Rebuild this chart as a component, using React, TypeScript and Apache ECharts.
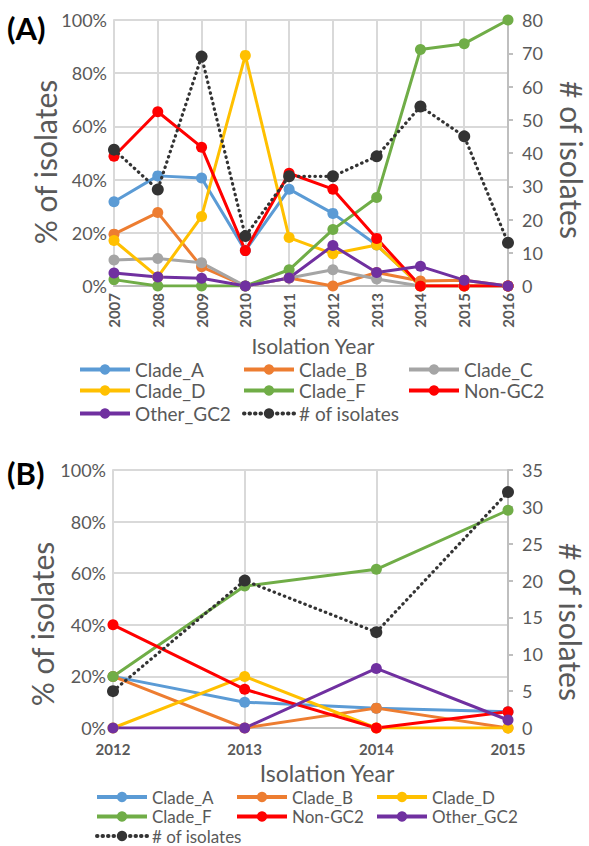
import React, { useEffect, useRef } from "react";
import * as echarts from "echarts";

const yearsA = ["2007", "2008", "2009", "2010", "2011", "2012", "2013", "2014", "2015", "2016"];
const aCladeA = [31.7, 41.4, 40.6, 13.3, 36.4, 27.3, 15.4, 0, 0, 0];
const aCladeB = [19.5, 27.6, 7.2, 0, 3.0, 0, 5.1, 1.9, 2.2, 0];
const aCladeC = [9.8, 10.3, 8.7, 0, 3.0, 6.1, 2.6, 0, 0, 0];
const aCladeD = [17.1, 3.4, 26.1, 86.7, 18.2, 12.1, 15.4, 0, 0, 0];
const aCladeF = [2.4, 0, 0, 0, 6.1, 21.2, 33.3, 88.9, 91.1, 100];
const aNonGC2 = [48.8, 65.5, 52.2, 13.3, 42.4, 36.4, 17.9, 0, 0, 0];
const aOtherGC2 = [4.9, 3.4, 2.9, 0, 3.0, 15.2, 5.1, 7.4, 2.2, 0];
const aCount = [41, 29, 69, 15, 33, 33, 39, 54, 45, 13];

const yearsB = ["2012", "2013", "2014", "2015"];
const bCladeA = [20, 10, 7.7, 6.3];
const bCladeB = [20, 0, 7.7, 0];
const bCladeD = [0, 20, 0, 0];
const bCladeF = [20, 55, 61.5, 84.4];
const bNonGC2 = [40, 15, 0, 6.3];
const bOtherGC2 = [0, 0, 23.1, 3.1];
const bCount = [5, 20, 13, 32];

const COLORS: Record<string, string> = {
  Clade_A: "#5B9BD5",
  Clade_B: "#ED7D31",
  Clade_C: "#A5A5A5",
  Clade_D: "#FFC000",
  Clade_F: "#70AD47",
  "Non-GC2": "#FF0000",
  Other_GC2: "#7030A0",
  "# of isolates": "#333333",
};

const FONT = "Lato, 'Open Sans', sans-serif";
const TXT = "#595959";

export default function App() {
  const ref = useRef<HTMLDivElement>(null);
  useEffect(() => {
    if (!ref.current) return;
    const chart = echarts.init(ref.current, undefined, { renderer: "svg" });

    const lineSeries = (name: string, data: number[], xi: number, yi: number) => ({
      name,
      type: "line",
      xAxisIndex: xi,
      yAxisIndex: yi,
      data,
      symbol: "circle",
      symbolSize: 11,
      itemStyle: { color: COLORS[name] },
      lineStyle: { color: COLORS[name], width: 3 },
    });
    const countSeries = (data: number[], xi: number, yi: number) => ({
      name: "# of isolates",
      type: "line",
      xAxisIndex: xi,
      yAxisIndex: yi,
      data,
      symbol: "circle",
      symbolSize: 12,
      z: 5,
      itemStyle: { color: COLORS["# of isolates"] },
      lineStyle: { color: COLORS["# of isolates"], width: 3.2, type: [0.5, 5], cap: "round" },
    });

    const grids = [
      { left: 114, right: 81, top: 20, height: 266 },
      { left: 113, right: 81, top: 470, height: 258 },
    ];

    const xAxis = (gi: number, data: string[], rotate: number, margin: number) => ({
      type: "category",
      gridIndex: gi,
      data,
      boundaryGap: false,
      axisLine: { show: true, lineStyle: { color: "#bfbfbf", width: 2 } },
      axisTick: { show: false },
      splitLine: { show: true, lineStyle: { color: "#d9d9d9", width: 2 } },
      axisLabel: {
        rotate,
        margin,
        color: TXT,
        fontFamily: FONT,
        fontWeight: "bold",
        fontSize: 15,
      },
    });
    const yLeft = (gi: number) => ({
      type: "value",
      gridIndex: gi,
      min: 0,
      max: 100,
      interval: 20,
      position: "left",
      axisLine: { show: true, lineStyle: { color: "#d9d9d9", width: 2 } },
      axisTick: { show: false },
      splitLine: { show: true, lineStyle: { color: "#d9d9d9", width: 2 } },
      axisLabel: { formatter: "{value}%", color: TXT, fontFamily: FONT, fontSize: 18, margin: 7 },
    });
    const yRight = (gi: number, max: number, interval: number) => ({
      type: "value",
      gridIndex: gi,
      min: 0,
      max,
      interval,
      position: "right",
      axisLine: { show: true, lineStyle: { color: "#bfbfbf", width: 2 } },
      axisTick: { show: true, length: 5, lineStyle: { color: "#bfbfbf", width: 2 } },
      splitLine: { show: false },
      axisLabel: { color: TXT, fontFamily: FONT, fontSize: 18, margin: 14 },
    });

    const legendItem = (name: string, left: number, center: number, size: number, lh: number) => ({
      data: [name],
      left,
      top: center - lh / 2,
      itemWidth: 50,
      itemHeight: 13,
      padding: 0,
      itemGap: 0,
      selectedMode: false,
      lineStyle: { width: 4 },
      textStyle: {
        color: TXT,
        fontFamily: FONT,
        fontSize: size,
        lineHeight: lh,
      },
    });

    const legends = [
      legendItem("Clade_A", 78, 369, 19, 18),
      legendItem("Clade_B", 242, 369, 19, 18),
      legendItem("Clade_C", 407, 369, 19, 18),
      legendItem("Clade_D", 78, 390, 19, 18),
      legendItem("Clade_F", 242, 390, 19, 18),
      legendItem("Non-GC2", 407, 390, 19, 18),
      legendItem("Other_GC2", 78, 413, 19, 18),
      legendItem("# of isolates", 242, 413, 19, 18),
      legendItem("Clade_A", 95, 797, 17, 17),
      legendItem("Clade_B", 235, 797, 17, 17),
      legendItem("Clade_D", 375, 797, 17, 17),
      legendItem("Clade_F", 95, 816.5, 17, 17),
      legendItem("Non-GC2", 235, 816.5, 17, 17),
      legendItem("Other_GC2", 375, 816.5, 17, 17),
      legendItem("# of isolates", 95, 836, 17, 17),
    ];

    const text = (t: string, x: number, y: number, size: number, opts: any = {}) => ({
      type: "text",
      x,
      y,
      rotation: opts.rotation || 0,
      style: {
        text: t,
        fill: opts.fill || TXT,
        font: `${opts.bold ? "bold " : ""}${size}px ${FONT}`,
        textAlign: opts.align || "center",
        textVerticalAlign: "middle",
      },
    });

    chart.setOption({
      animation: false,
      backgroundColor: "#ffffff",
      grid: grids,
      xAxis: [xAxis(0, yearsA, 90, 7), xAxis(1, yearsB, 0, 13)],
      yAxis: [yLeft(0), yRight(0, 80, 10), yLeft(1), yRight(1, 35, 5)],
      legend: legends,
      series: [
        lineSeries("Clade_A", aCladeA, 0, 0),
        lineSeries("Clade_B", aCladeB, 0, 0),
        lineSeries("Clade_C", aCladeC, 0, 0),
        lineSeries("Clade_D", aCladeD, 0, 0),
        lineSeries("Clade_F", aCladeF, 0, 0),
        lineSeries("Non-GC2", aNonGC2, 0, 0),
        lineSeries("Other_GC2", aOtherGC2, 0, 0),
        countSeries(aCount, 0, 1),
        lineSeries("Clade_A", bCladeA, 1, 2),
        lineSeries("Clade_B", bCladeB, 1, 2),
        lineSeries("Clade_D", bCladeD, 1, 2),
        lineSeries("Clade_F", bCladeF, 1, 2),
        lineSeries("Non-GC2", bNonGC2, 1, 2),
        lineSeries("Other_GC2", bOtherGC2, 1, 2),
        countSeries(bCount, 1, 3),
      ],
      graphic: [
        text("(A)", 7, 28, 31, { bold: true, fill: "#000", align: "left" }),
        text("(B)", 7, 473, 31, { bold: true, fill: "#000", align: "left" }),
        text("% of isolates", 45, 162, 30, { rotation: Math.PI / 2 }),
        text("# of isolates", 572, 160, 30, { rotation: -Math.PI / 2 }),
        text("% of isolates", 42, 624, 30, { rotation: Math.PI / 2 }),
        text("# of isolates", 571, 622, 30, { rotation: -Math.PI / 2 }),
        text("Isolation Year", 313, 345, 21),
        text("Isolation Year", 327, 773, 23),
      ],
    });
    return () => chart.dispose();
  }, []);

  return (
    <div
      ref={ref}
      style={{ position: "fixed", left: 0, top: 0, width: 589, height: 846, background: "#fff" }}
    />
  );
}
